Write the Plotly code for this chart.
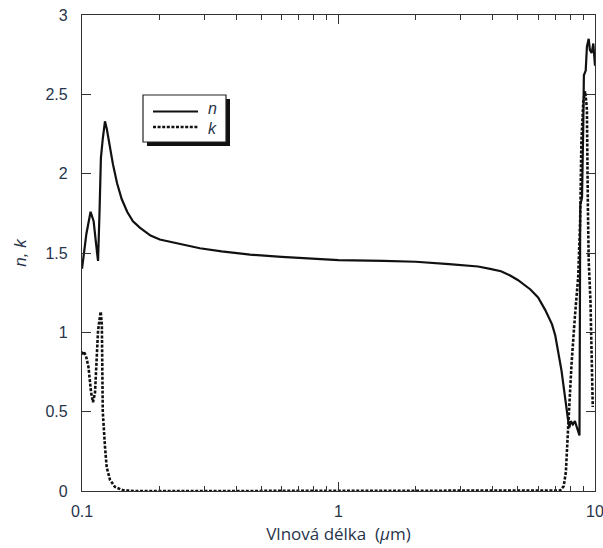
import plotly.graph_objects as go

# ---- data (wavelength in micrometres) ----
n_wl = [0.100, 0.101, 0.104, 0.108, 0.111, 0.1145, 0.1155, 0.117, 0.1185, 0.1205,
        0.1229, 0.125, 0.128, 0.132, 0.137, 0.1428, 0.150, 0.158, 0.168, 0.185, 0.201,
        0.25, 0.288, 0.35, 0.452, 0.6,
        0.8, 1.0, 1.5, 2.0, 2.7, 3.5, 3.9, 4.3, 4.65, 5.0, 5.6, 6.0, 6.4, 6.8, 7.0,
        7.2, 7.4, 7.6, 7.75, 7.85, 7.95, 8.05, 8.2, 8.35, 8.5, 8.65, 8.70, 8.76,
        8.9, 9.0, 9.05, 9.2, 9.3, 9.45, 9.55, 9.7, 9.85, 10.0]
n_val = [1.40, 1.45, 1.62, 1.76, 1.70, 1.50, 1.45, 1.75, 2.10, 2.22,
         2.33, 2.28, 2.18, 2.06, 1.94, 1.84, 1.76, 1.70, 1.66, 1.61, 1.585,
         1.55, 1.53, 1.51, 1.49, 1.475,
         1.465, 1.455, 1.45, 1.445, 1.43, 1.415, 1.40, 1.385, 1.36, 1.33, 1.27, 1.22, 1.14, 1.05, 0.98,
         0.88, 0.76, 0.62, 0.50, 0.45, 0.40, 0.44, 0.42, 0.44, 0.40, 0.36, 0.35, 1.80,
         1.85, 2.30, 2.62, 2.65, 2.80, 2.85, 2.78, 2.76, 2.82, 2.68]

k_wl = [0.100, 0.1015, 0.1037, 0.106, 0.1085, 0.1104, 0.1124, 0.114, 0.1155, 0.1175,
        0.1183, 0.1195, 0.1205, 0.1229, 0.1248, 0.1286, 0.1345, 0.1445, 0.16, 0.3,
        1.0, 3.0, 5.0, 7.0, 7.3, 7.55, 7.7, 7.8, 7.9, 8.1, 8.35, 8.6, 8.75, 8.85,
        9.0, 9.15, 9.25, 9.3, 9.38, 9.45, 9.6, 9.72, 9.8]
k_val = [0.86, 0.88, 0.85, 0.78, 0.62, 0.56, 0.62, 0.84, 1.01, 1.10,
         1.13, 1.05, 0.50, 0.28, 0.15, 0.07, 0.025, 0.005, 0.0, 0.0,
         0.0, 0.0, 0.0, 0.0, 0.003, 0.03, 0.12, 0.30, 0.50, 0.80, 1.10, 1.35, 1.70, 2.20,
         2.45, 2.52, 2.45, 2.40, 1.80, 1.45, 1.20, 0.70, 0.53]

x_tickvals = [0.1, 1, 10]
x_ticktext = ["0.1", "1", "10"]
x_minor = [0.2, 0.3, 0.4, 0.5, 0.6, 0.7, 0.8, 0.9, 2, 3, 4, 5, 6, 7, 8, 9]
y_tickvals = [0, 0.5, 1, 1.5, 2, 2.5, 3]
y_ticktext = ["0", "0.5", "1", "1.5", "2", "2.5", "3"]

W, H = 603, 548
L, R, T, B = 82, 595, 15, 491
label_col = "#27344a"


def px(x):
    return (x - L) / (R - L)


def py(y):
    return (B - y) / (B - T)


fig = go.Figure()
fig.add_trace(go.Scatter(x=n_wl, y=n_val, mode="lines", name="n",
                         line=dict(color="#111111", width=2.2), showlegend=False))
fig.add_trace(go.Scatter(x=k_wl, y=k_val, mode="lines", name="k",
                         line=dict(color="#111111", width=2.6, dash="3px,1.6px"),
                         showlegend=False))

# manual legend with shadow
shapes = [
    dict(type="rect", xref="paper", yref="paper", x0=px(147), x1=px(230), y0=py(146), y1=py(99),
         fillcolor="#111111", line=dict(width=0), layer="above"),
    dict(type="rect", xref="paper", yref="paper", x0=px(143), x1=px(226), y0=py(142), y1=py(95),
         fillcolor="white", line=dict(color="#222222", width=1.2), layer="above"),
    dict(type="line", xref="paper", yref="paper", x0=px(153), x1=px(198), y0=py(111.5), y1=py(111.5),
         line=dict(color="#111111", width=2.2), layer="above"),
    dict(type="line", xref="paper", yref="paper", x0=px(153), x1=px(198), y0=py(127), y1=py(127),
         line=dict(color="#111111", width=2.6, dash="3px,1.6px"), layer="above"),
]
annotations = [
    dict(xref="paper", yref="paper", x=px(206), y=py(109), text="<i>n</i>", showarrow=False,
         xanchor="left", yanchor="middle", font=dict(family="Liberation Sans", size=16, color=label_col)),
    dict(xref="paper", yref="paper", x=px(206), y=py(128), text="<i>k</i>", showarrow=False,
         xanchor="left", yanchor="middle", font=dict(family="Liberation Sans", size=16, color=label_col)),
]

fig.update_layout(
    width=W, height=H,
    margin=dict(l=L, r=W - R, t=T, b=H - B, autoexpand=False),
    paper_bgcolor="white", plot_bgcolor="white",
    shapes=shapes, annotations=annotations,
    xaxis=dict(
        type="log", range=[-1, 1], automargin=False,
        tickvals=x_tickvals, ticktext=x_ticktext,
        ticks="inside", ticklen=9, tickwidth=1.2, tickcolor="#333333",
        minor=dict(tickvals=x_minor, ticks="inside", ticklen=5, tickwidth=1, tickcolor="#333333",
                   showgrid=False),
        showline=True, linecolor="#333333", linewidth=1.3, mirror="ticks",
        showgrid=False, zeroline=False,
        tickfont=dict(family="Liberation Sans", size=16, color=label_col),
        ticklabelstandoff=6, ticklabeloverflow="allow",
        title=dict(text="Vlnová délka  (<i>μ</i>m)", standoff=8,
                   font=dict(family="Open Sans", size=17, color=label_col)),
    ),
    yaxis=dict(
        range=[0, 3], automargin=False,
        tickvals=y_tickvals, ticktext=y_ticktext,
        ticks="inside", ticklen=9, tickwidth=1.2, tickcolor="#333333",
        showline=True, linecolor="#333333", linewidth=1.3, mirror="ticks",
        showgrid=False, zeroline=False,
        tickfont=dict(family="Liberation Sans", size=16, color=label_col),
        ticklabelstandoff=10,
        title=dict(text="<i>n, k</i>", standoff=14,
                   font=dict(family="Liberation Sans", size=17, color=label_col)),
    ),
)

fig.write_html("out.html")
